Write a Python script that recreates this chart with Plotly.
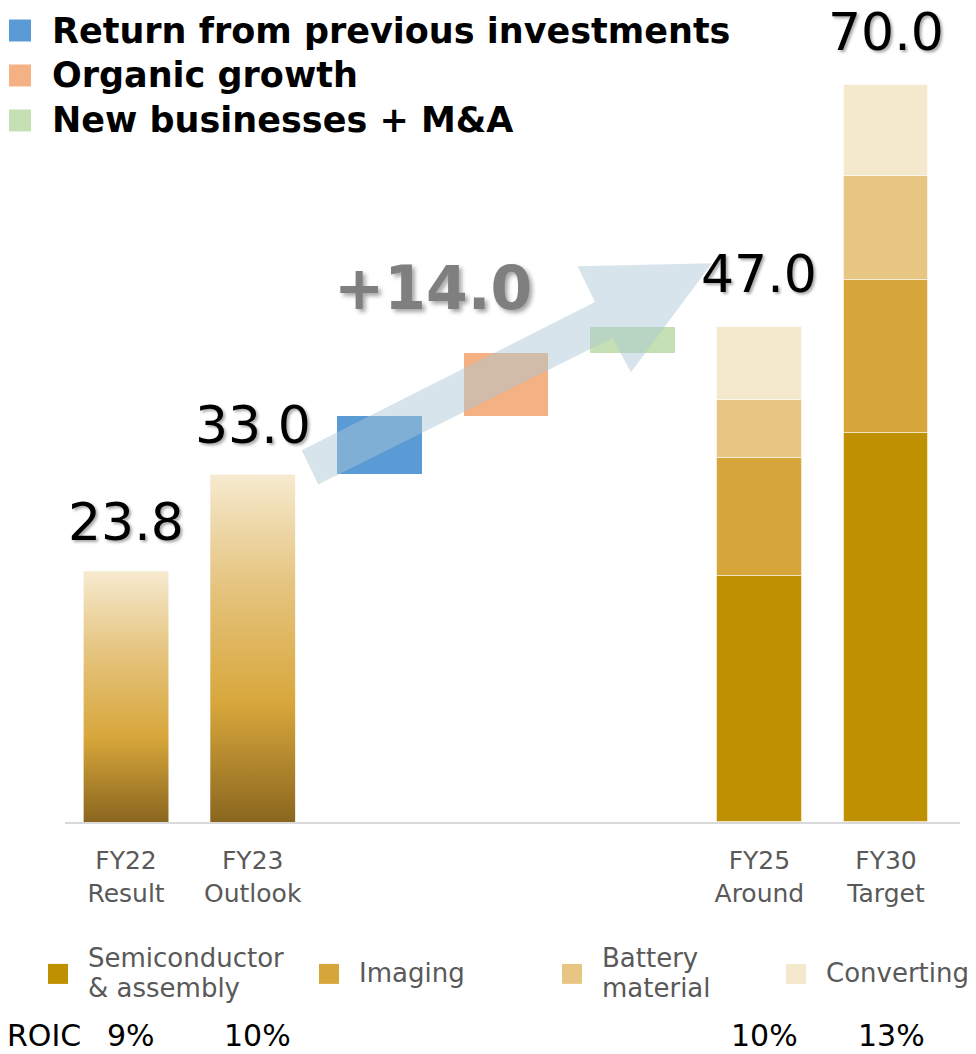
import plotly.graph_objects as go

# ---- data ----
categories = ["FY22<br>Result", "FY23<br>Outlook", "", "", "", "FY25<br>Around", "FY30<br>Target"]
gradient_totals = [23.8, 33.0]          # FY22 result, FY23 outlook

bridge_names = ["Return from previous investments", "Organic growth", "New businesses + M&A"]
bridge_values = [5.5, 6.0, 2.5]
bridge_colors = ["#5b9bd5", "#f4b183", "#c5e0b4"]

segment_names = ["Semiconductor<br>& assembly", "Imaging", "Battery<br>material", "Converting"]
fy25_segments = [23.4, 11.2, 5.5, 6.9]
fy30_segments = [36.9, 14.6, 9.8, 8.7]
segment_colors = ["#bf9000", "#d7a63a", "#e7c683", "#f5e9cd"]

roic = ["9%", "10%", "", "", "", "10%", "13%"]

FONT = "DejaVu Sans"
BAR_W = 0.67

# page offset (browser body margin) and plot area in page pixels
OFF = 8
W, H = 976, 1054
L, R, T, B = 65, 960, 31.5, 822
def px_x(px):
    return (px - L) / (R - L)
def px_y(py):
    return (B - py) / (B - T)

fig = go.Figure()

# FY22 / FY23 gradient bars
grad_scale = [[0, "#8a661f"], [0.34, "#d8a73b"], [0.7, "#e6c683"], [1, "#f6eacf"]]
for i, v in enumerate(gradient_totals):
    x0, x1 = i - BAR_W / 2, i + BAR_W / 2
    fig.add_trace(go.Scatter(
        x=[x0, x1, x1, x0, x0], y=[0, 0, v, v, 0],
        mode="lines", fill="toself", line=dict(width=0),
        fillgradient=dict(type="vertical", colorscale=grad_scale),
        hoverinfo="skip", showlegend=False))

# bridge (waterfall) bars
base = gradient_totals[-1]
for k, (name, v, c) in enumerate(zip(bridge_names, bridge_values, bridge_colors)):
    fig.add_trace(go.Bar(
        x=[2 + k], y=[v], base=[base], width=BAR_W,
        marker=dict(color=c, line=dict(width=0)), name=name, showlegend=False))
    base += v

# stacked FY25 / FY30 bars
for s, (name, c) in enumerate(zip(segment_names, segment_colors)):
    vals = [fy25_segments[s], fy30_segments[s]]
    bases = [sum(fy25_segments[:s]), sum(fy30_segments[:s])]
    fig.add_trace(go.Bar(
        x=[5, 6], y=vals, base=bases, width=BAR_W,
        marker=dict(color=c, line=dict(width=1, color="rgba(255,255,255,0.5)")),
        name=name.replace("<br>", " "), showlegend=False))

totals = [(0, gradient_totals[0]), (1, gradient_totals[1]),
          (5, sum(fy25_segments)), (6, sum(fy30_segments))]

annotations = []
for x, v in totals:
    annotations.append(dict(
        x=x, y=v, xref="x", yref="y", text=f"{v:.1f}", showarrow=False,
        yanchor="bottom", yshift=17 if x < 2 else 21,
        font=dict(family=FONT, size=52, color="#000000",
                  shadow="2px 2px 3px rgba(0,0,0,0.35)")))

annotations.append(dict(
    x=2.42, y=50.7, xref="x", yref="y", text=f"<b>+{sum(bridge_values):.1f}</b>",
    showarrow=False,
    font=dict(family=FONT, size=60, color="#7f7f7f",
              shadow="3px 3px 4px rgba(0,0,0,0.35)")))

# top legend
shapes = []
for k, (name, c) in enumerate(zip(bridge_names, bridge_colors)):
    yc = 30 + 45 * k
    shapes.append(dict(type="rect", xref="paper", yref="paper",
                       x0=px_x(9), x1=px_x(31), y0=px_y(yc + 11), y1=px_y(yc - 11),
                       fillcolor=c, line=dict(width=0)))
    annotations.append(dict(
        x=px_x(50), y=px_y(yc), xref="paper", yref="paper", text=f"<b>{name}</b>",
        showarrow=False, xanchor="left", yanchor="middle",
        font=dict(family=FONT, size=35, color="#000000")))

# bottom legend (lines placed one by one for tight line spacing)
leg_sq = [48, 319, 562, 786]
for s, (name, c) in enumerate(zip(segment_names, segment_colors)):
    shapes.append(dict(type="rect", xref="paper", yref="paper",
                       x0=px_x(leg_sq[s]), x1=px_x(leg_sq[s] + 20),
                       y0=px_y(984), y1=px_y(964),
                       fillcolor=c, line=dict(width=0)))
    lines = name.split("<br>")
    for j, line in enumerate(lines):
        yc = 973 + (j - (len(lines) - 1) / 2) * 30
        annotations.append(dict(
            x=px_x(leg_sq[s] + 38), y=px_y(yc), xref="paper", yref="paper", text=line,
            showarrow=False, xanchor="left", yanchor="middle",
            font=dict(family=FONT, size=26, color="#595959")))

# ROIC row
annotations.append(dict(
    x=px_x(5), y=px_y(1036), xref="paper", yref="paper", text="ROIC",
    showarrow=False, xanchor="left", yanchor="middle",
    font=dict(family=FONT, size=30, color="#000000")))
for i, r in enumerate(roic):
    if r:
        annotations.append(dict(
            x=i, y=px_y(1036), xref="x", yref="paper", text=r, showarrow=False,
            yanchor="middle", xshift=5,
            font=dict(family=FONT, size=30, color="#000000")))

# big growth arrow (decoration, data coords)
arrow_pts = [(1.387, 35.29), (3.702, 49.36), (3.565, 52.75), (4.625, 53.04),
             (3.986, 42.69), (3.841, 45.95), (1.518, 32.04)]
path = "M " + " L ".join(f"{x},{y}" for x, y in arrow_pts) + " Z"
shapes.append(dict(type="path", xref="x", yref="y", path=path,
                   fillcolor="rgba(170,197,212,0.47)", line=dict(width=0),
                   layer="above"))

fig.update_layout(
    width=W - OFF, height=H - OFF,
    margin=dict(l=L - OFF, r=W - R, t=T - OFF, b=H - B),
    plot_bgcolor="white", paper_bgcolor="white",
    barmode="overlay", bargap=0,
    xaxis=dict(range=[-0.482, 6.584], tickvals=list(range(len(categories))),
               ticktext=categories, showgrid=False, zeroline=False,
               showline=True, linecolor="#d9d9d9", linewidth=2,
               ticks="outside", ticklen=15, tickcolor="rgba(0,0,0,0)",
               tickfont=dict(family=FONT, size=25, color="#595959")),
    yaxis=dict(range=[0, 75], visible=False),
    annotations=annotations, shapes=shapes,
)

fig.write_html("out.html")
